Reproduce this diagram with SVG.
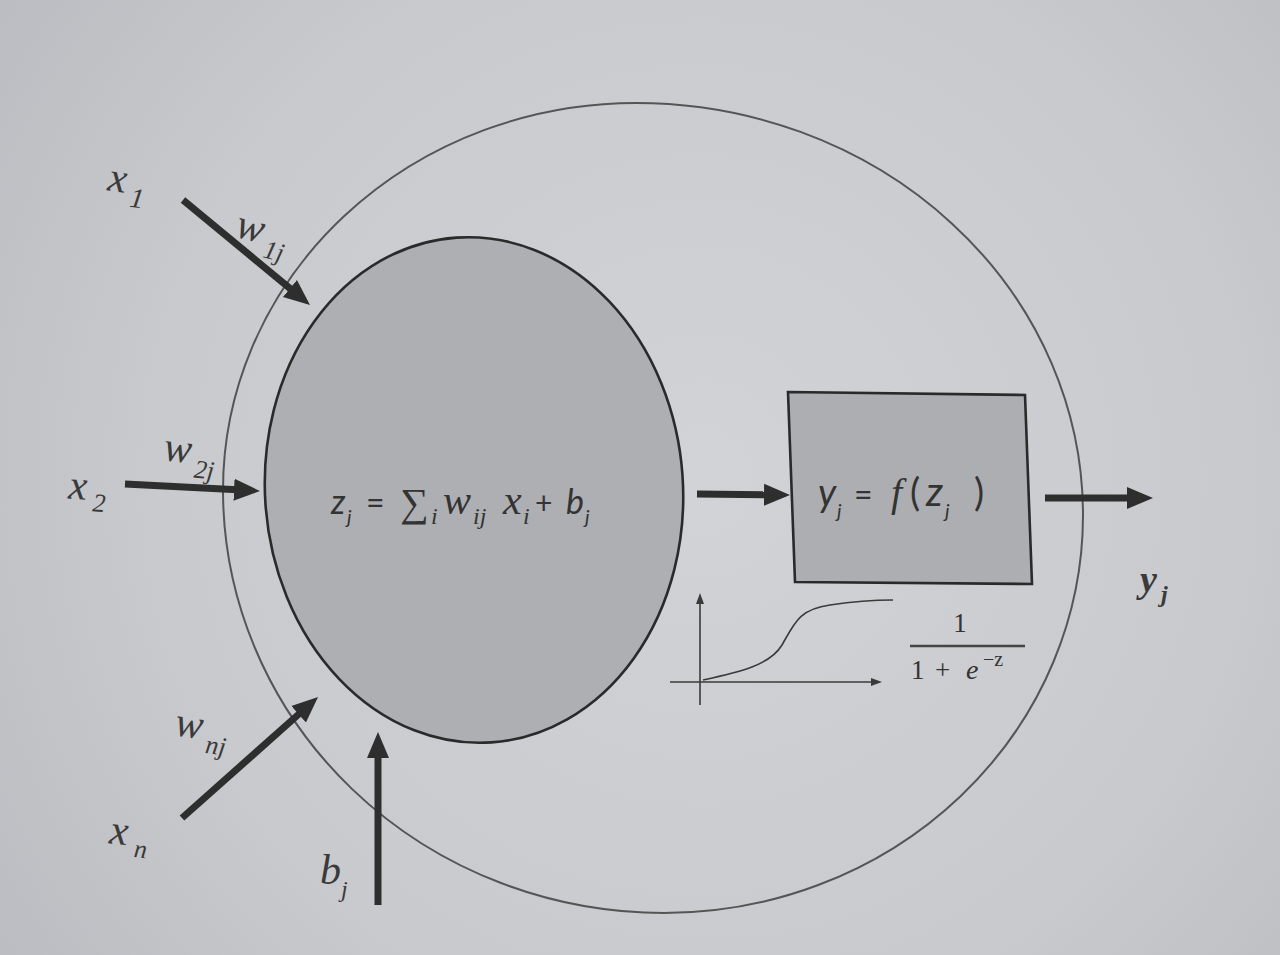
<svg xmlns="http://www.w3.org/2000/svg" width="1280" height="955" viewBox="0 0 1280 955">
<defs>
<radialGradient id="page" cx="700" cy="480" r="900" gradientUnits="userSpaceOnUse">
<stop offset="0" stop-color="#d1d3d7"/>
<stop offset="0.6" stop-color="#c8cace"/>
<stop offset="1" stop-color="#b8babf"/>
</radialGradient>
<marker id="big" markerUnits="userSpaceOnUse" markerWidth="28" markerHeight="24" viewBox="0 0 28 24" refX="8" refY="12" orient="auto">
<path d="M0,1 L26,12 L0,23 Z" fill="#2e2e2e"/>
</marker>
<marker id="small" markerUnits="userSpaceOnUse" markerWidth="12" markerHeight="10" viewBox="0 0 12 10" refX="2" refY="5" orient="auto">
<path d="M0,1 L11,5 L0,9 Z" fill="#3a3a3a"/>
</marker>
<style>
.thick{stroke:#2e2e2e;stroke-width:7;fill:none;marker-end:url(#big)}
.axis{stroke:#3a3a3a;stroke-width:1.6;fill:none;marker-end:url(#small)}
.lbl{font-family:"Liberation Serif","DejaVu Serif",serif;font-style:italic;fill:#3a3a3a}
.sans{font-family:"Lato","Noto Sans",sans-serif;font-style:italic;fill:#333}
.up{font-family:"Lato","Noto Sans",sans-serif;fill:#333}
.ser{font-family:"Liberation Serif","DejaVu Serif",serif;fill:#333}
.ital{font-family:"Liberation Serif","DejaVu Serif",serif;font-style:italic;fill:#333}
</style>
</defs>
<rect width="1280" height="955" fill="url(#page)"/>

<g id="neuron">
<path d="M 636 103 A 447 412 0 0 1 1083 515 A 419 398 0 0 1 664 913 A 441 423 0 0 1 223 490 A 413 387 0 0 1 636 103 Z" fill="none" stroke="#555" stroke-width="2"/>
</g>

<g id="summation">
<ellipse cx="474" cy="490" rx="209" ry="253" transform="rotate(-4 474 490)" fill="#adafb3" stroke="#2a2a2a" stroke-width="2.6"/>
<text class="sans" x="331" y="514" font-size="34">z</text>
<text class="sans" x="347" y="524" font-size="20">j</text>
<text class="up" x="366" y="514" font-size="32">=</text>
<text class="ser" x="400" y="516" font-size="40">∑</text>
<text class="ital" x="431" y="524" font-size="24">i</text>
<text class="ital" x="443" y="514" font-size="42">w</text>
<text class="ital" x="473" y="524" font-size="24">ij</text>
<text class="ital" x="503" y="514" font-size="42">x</text>
<text class="ital" x="523" y="524" font-size="24">i</text>
<text class="up" x="535" y="514" font-size="30">+</text>
<text class="sans" x="566" y="514" font-size="34">b</text>
<text class="sans" x="585" y="524" font-size="20">j</text>
</g>

<g id="activation">
<path d="M788,392 L1025,395 L1032,584 L795,582 Z" fill="#acaeb2" stroke="#2a2a2a" stroke-width="2.6"/>
<text class="sans" x="818" y="506" font-size="38">y</text>
<text class="sans" x="837" y="518" font-size="20">j</text>
<text class="up" x="854" y="506" font-size="32">=</text>
<text class="ital" x="891" y="506" font-size="40">f</text>
<text class="up" x="910" y="506" font-size="38">(</text>
<text class="sans" x="926" y="506" font-size="40">z</text>
<text class="sans" x="945" y="518" font-size="20">j</text>
<text class="up" x="974" y="506" font-size="38">)</text>
</g>

<g id="sigmoid">
<line class="axis" x1="700" y1="705" x2="700" y2="602"/>
<line class="axis" x1="670" y1="682" x2="873" y2="682"/>
<path d="M 703 680 C 740 672, 770 665, 782 645 C 795 622, 800 609, 830 605 C 850 602, 870 600, 893 600" fill="none" stroke="#3a3a3a" stroke-width="1.6"/>
<text class="ser" x="960" y="632" font-size="27" text-anchor="middle" fill="#444">1</text>
<line x1="910" y1="646" x2="1025" y2="646" stroke="#444" stroke-width="2.4"/>
<text class="ser" x="911" y="679" font-size="27" fill="#444">1</text>
<text class="ser" x="935" y="679" font-size="27" fill="#444">+</text>
<text class="ital" x="966" y="679" font-size="28" fill="#444">e</text>
<text class="ser" x="983" y="666" font-size="20" fill="#444">−z</text>
</g>

<g id="connectors">
<line class="thick" x1="183" y1="200" x2="296.1" y2="293.5"/>
<line class="thick" x1="125" y1="484" x2="242" y2="490.1"/>
<line class="thick" x1="182" y1="818" x2="304.6" y2="709"/>
<line class="thick" x1="378" y1="905" x2="378" y2="750"/>
<line class="thick" x1="697" y1="494" x2="772" y2="494.8"/>
<line class="thick" x1="1045" y1="498" x2="1135" y2="498"/>
</g>

<g id="labels">
<g transform="rotate(8 120 190)"><text class="lbl" x="107" y="192" font-size="42">x</text><text class="lbl" x="131" y="205" font-size="28">1</text></g>
<g transform="rotate(14 260 240)"><text class="lbl" x="234" y="243" font-size="42">w</text><text class="lbl" x="266" y="256" font-size="26">1j</text></g>
<g transform="rotate(6 190 460)"><text class="lbl" x="163" y="463" font-size="42">w</text><text class="lbl" x="195" y="477" font-size="26">2j</text></g>
<g transform="rotate(4 90 497)"><text class="lbl" x="68" y="500" font-size="42">x</text><text class="lbl" x="93" y="511" font-size="26">2</text></g>
<g transform="rotate(8 200 735)"><text class="lbl" x="174" y="739" font-size="42">w</text><text class="lbl" x="207" y="752" font-size="26">nj</text></g>
<g transform="rotate(6 125 840)"><text class="lbl" x="109" y="845" font-size="42">x</text><text class="lbl" x="135" y="856" font-size="26">n</text></g>
<text class="lbl" x="320" y="884" font-size="42">b</text><text class="lbl" x="341" y="897" font-size="24">j</text>
<text class="lbl" x="1140" y="592" font-size="38" font-weight="bold">y</text><text class="lbl" x="1161" y="602" font-size="24" font-weight="bold">j</text>
</g>
</svg>
